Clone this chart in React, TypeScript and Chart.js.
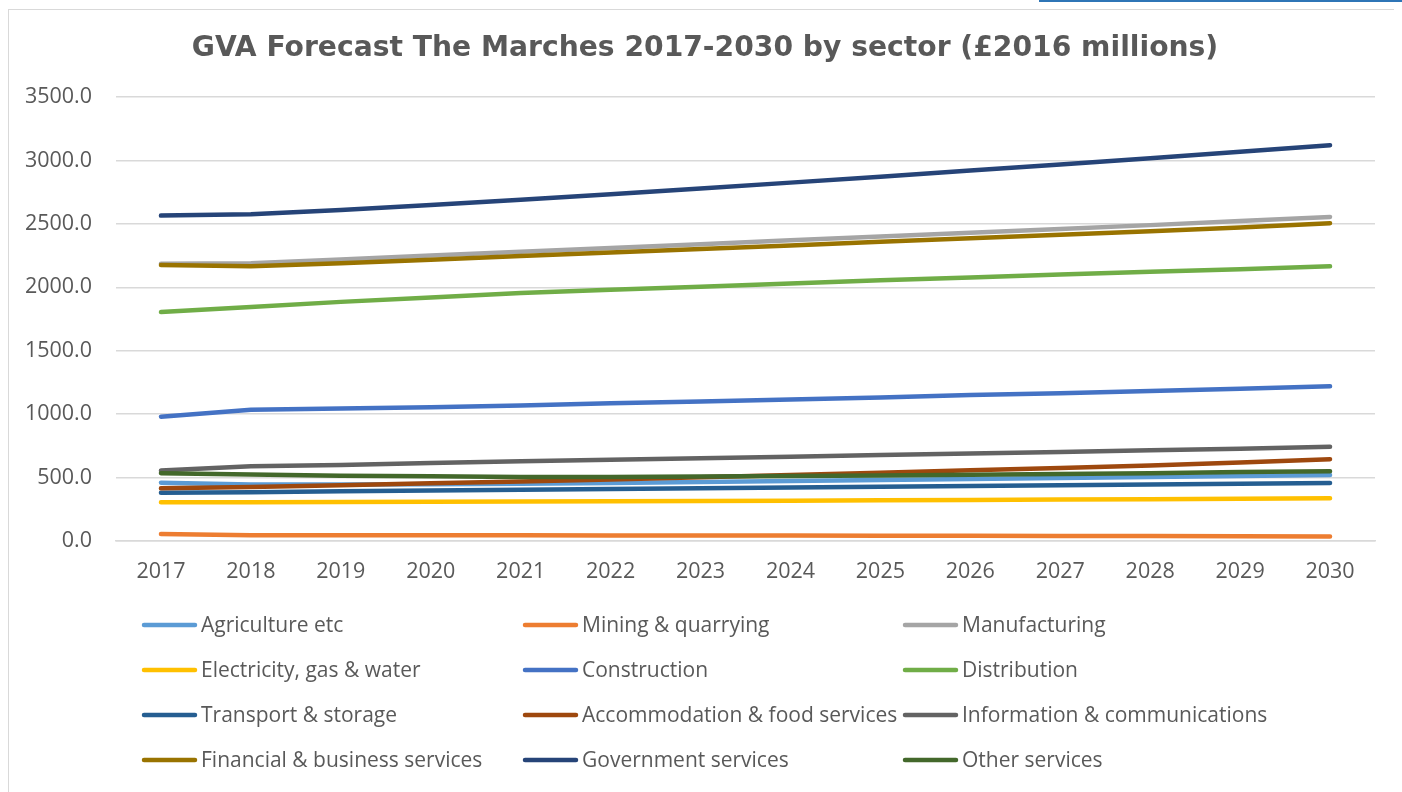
import React, { useEffect, useRef } from "react";
import { Chart, registerables } from "chart.js";

Chart.register(...registerables);

const years = ["2017","2018","2019","2020","2021","2022","2023","2024","2025","2026","2027","2028","2029","2030"];

const seriesNames = [
  "Agriculture etc",
  "Mining & quarrying",
  "Manufacturing",
  "Electricity, gas & water",
  "Construction",
  "Distribution",
  "Transport & storage",
  "Accommodation & food services",
  "Information & communications",
  "Financial & business services",
  "Government services",
  "Other services",
];

const seriesColors = [
  "#5B9BD5", "#ED7D31", "#A5A5A5", "#FFC000", "#4472C4", "#70AD47",
  "#255E91", "#9E480E", "#636363", "#997300", "#264478", "#43682B",
];

const agriculture = [460, 445, 445, 448, 452, 458, 465, 472, 480, 488, 496, 505, 513, 520];
const mining = [55, 45, 45, 45, 45, 44, 44, 43, 42, 41, 40, 39, 38, 36];
const manufacturing = [2185, 2190, 2220, 2250, 2280, 2310, 2340, 2370, 2400, 2430, 2460, 2490, 2522, 2555];
const electricity = [305, 306, 308, 310, 312, 314, 316, 318, 321, 324, 327, 330, 333, 337];
const construction = [980, 1035, 1045, 1055, 1068, 1085, 1100, 1115, 1132, 1150, 1165, 1182, 1200, 1220];
const distribution = [1805, 1845, 1885, 1920, 1955, 1980, 2005, 2030, 2055, 2078, 2100, 2122, 2143, 2165];
const transport = [380, 385, 392, 398, 404, 410, 416, 422, 428, 434, 440, 446, 452, 458];
const accommodation = [415, 425, 440, 455, 470, 485, 502, 520, 538, 557, 576, 596, 618, 645];
const information = [555, 590, 600, 615, 628, 640, 652, 664, 677, 690, 702, 715, 728, 742];
const financial = [2175, 2165, 2190, 2218, 2246, 2274, 2302, 2330, 2358, 2386, 2414, 2442, 2472, 2505];
const government = [2565, 2575, 2610, 2648, 2690, 2733, 2778, 2825, 2872, 2920, 2968, 3018, 3068, 3120];
const other = [535, 525, 515, 510, 505, 505, 508, 512, 517, 522, 528, 535, 543, 550];

const seriesValues = [
  agriculture, mining, manufacturing, electricity, construction, distribution,
  transport, accommodation, information, financial, government, other,
];

const yTicks = [0, 500, 1000, 1500, 2000, 2500, 3000, 3500];

const TITLE = "GVA Forecast The Marches 2017-2030 by sector (£2016 millions)";
const FONT = "'Open Sans', 'Noto Sans', sans-serif";
const TEXT = "#595959";

const titleAndLegend = {
  id: "titleAndLegend",
  afterDraw(chart: any) {
    const ctx = chart.ctx;
    ctx.save();
    ctx.fillStyle = TEXT;
    ctx.font = `bold 28.2px 'DejaVu Sans', Verdana, sans-serif`;
    ctx.textAlign = "center";
    ctx.textBaseline = "middle";
    ctx.fillText(TITLE, chart.width / 2, 39);

    const colX = [133, 514, 894];
    const rowY = [615, 660, 705, 750];
    chart.data.datasets.forEach((ds: any, i: number) => {
      const c = i % 3;
      const r = Math.floor(i / 3);
      const x = colX[c];
      const y = rowY[r];
      ctx.strokeStyle = ds.borderColor;
      ctx.lineWidth = 4.5;
      ctx.lineCap = "round";
      ctx.beginPath();
      ctx.moveTo(x + 2, y);
      ctx.lineTo(x + 53, y);
      ctx.stroke();
      ctx.fillStyle = TEXT;
      ctx.font = `21px ${FONT}`;
      ctx.textBaseline = "middle";
      ctx.textAlign = "left";
      ctx.fillText(ds.label, x + 59, y + 1);
    });
    ctx.restore();
  },
};

export default function App() {
  const ref = useRef<HTMLCanvasElement | null>(null);
  useEffect(() => {
    if (!ref.current) return;
    const n = seriesNames.length;
    const chart = new Chart(ref.current, {
      type: "line",
      data: {
        labels: years,
        datasets: seriesNames.map((name, i) => ({
          label: name,
          data: seriesValues[i],
          borderColor: seriesColors[i],
          backgroundColor: seriesColors[i],
          borderWidth: 4.5,
          borderCapStyle: "round",
          borderJoinStyle: "round",
          pointRadius: 0,
          fill: false,
          tension: 0,
          order: n - i,
        })),
      },
      options: {
        animation: false,
        responsive: false,
        maintainAspectRatio: false,
        layout: { padding: { left: 0, right: 26, top: 87, bottom: 200 } },
        plugins: {
          legend: { display: false },
          tooltip: { enabled: false },
          title: { display: false },
        },
        scales: {
          x: {
            offset: true,
            grid: { display: false, drawTicks: false },
            border: { display: true, color: "#D9D9D9", width: 1.5 },
            ticks: { color: TEXT, font: { family: FONT, size: 21.5 }, padding: 18, maxRotation: 0 },
            afterFit: (s: any) => { s.height = 51; },
          },
          y: {
            min: 0,
            max: 3500,
            afterBuildTicks: (s: any) => { s.ticks = yTicks.map((v) => ({ value: v })); },
            grid: { color: "#D9D9D9", lineWidth: 1.5, drawTicks: false },
            border: { display: false },
            ticks: {
              color: TEXT,
              font: { family: FONT, size: 21.5 },
              padding: 24,
              callback: (v: any) => Number(v).toFixed(1),
            },
            afterFit: (s: any) => { s.width = 107; },
          },
        },
      },
      plugins: [titleAndLegend],
    });
    return () => chart.destroy();
  }, []);

  return (
    <div style={{ position: "relative", width: 1402, height: 792 }}>
      <div style={{ position: "fixed", left: 1039, top: 0, width: 363, height: 2, background: "#2E75B6" }} />
      <div
        style={{
          position: "absolute",
          left: 0,
          top: 1,
          width: 1400,
          height: 800,
          border: "1px solid #D9D9D9",
          background: "#fff",
          boxSizing: "border-box",
        }}
      >
        <canvas ref={ref} width={1392} height={782} style={{ display: "block", width: 1392, height: 782 }} />
      </div>
    </div>
  );
}
